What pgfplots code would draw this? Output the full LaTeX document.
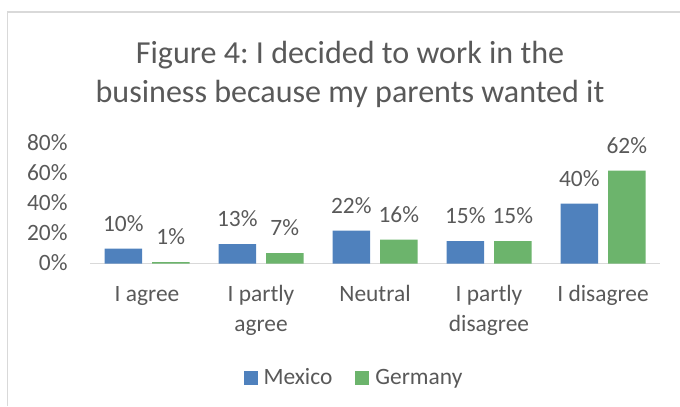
\documentclass[border=0pt]{standalone}
\usepackage{pgfplots}
\pgfplotsset{compat=1.18}
\usepackage{fontspec}
\setmainfont{Carlito}
\frenchspacing
\definecolor{mex}{HTML}{4F81BD}
\definecolor{ger}{HTML}{6CB46C}
\definecolor{txt}{HTML}{595959}
\definecolor{brd}{HTML}{D9D9D9}
\begin{document}
\begin{tikzpicture}[x=1bp,y=1bp]
\useasboundingbox (0,0) rectangle (680,406);
\draw[brd, line width=1.5bp] (7.5,0) -- (7.5,394) -- (680,394);
\node[text=txt, font=\fontsize{32.2}{39}\selectfont, anchor=base, inner sep=0pt] at (350,343) {Figure 4: I decided to work in the};
\node[text=txt, font=\fontsize{32.2}{39}\selectfont, anchor=base, inner sep=0pt] at (350,304) {business because my parents wanted it};
\begin{axis}[
  at={(90bp,142.5bp)}, anchor=south west, scale only axis,
  width=570bp, height=120bp,
  xmin=-0.5, xmax=4.5, ymin=0, ymax=80,
  ybar=10bp, bar width=37.5bp,
  separate axis lines,
  axis x line*=bottom, axis y line*=left,
  x axis line style={brd, line width=1.5bp},
  y axis line style={draw=none},
  major tick length=0pt,
  ytick={0,20,40,60,80},
  yticklabels={0\%,20\%,40\%,60\%,80\%},
  yticklabel style={font=\fontsize{23.5}{28}\selectfont, text=txt, inner sep=0pt, anchor=base east, xshift=-22.3bp, yshift=-7.3bp},
  xtick={0,1,2,3,4},
  xticklabels={\strut I agree, {\strut I partly\\agree}, \strut Neutral, {\strut I partly\\disagree}, \strut I disagree},
  xticklabel style={font=\fontsize{23.5}{30}\selectfont, text=txt, align=center, inner sep=0pt, anchor=north, yshift=-17.2bp},
  nodes near coords,
  point meta=explicit symbolic,
  every node near coord/.append style={font=\fontsize{23.5}{28}\selectfont, text=txt, inner sep=0pt, anchor=base, yshift=17.5bp},
  clip=false,
  legend columns=-1,
  legend style={at={(0.463,-0.95)}, anchor=center, draw=none, font=\fontsize{23.5}{28}\selectfont, text=txt,
    /tikz/every odd column/.append style={column sep=4bp},
    /tikz/every even column/.append style={column sep=21bp}},
  legend image code/.code={\fill[#1,draw=none] (0bp,-7bp) rectangle (14bp,7bp);},
]
\addplot[fill=mex, draw=none] coordinates {(0,10) [10\%] (1,13) [13\%] (2,22) [22\%] (3,15) [15\%] (4,40) [40\%]};
\addplot[fill=ger, draw=none] coordinates {(0,1) [1\%] (1,7) [7\%] (2,16) [16\%] (3,15) [15\%] (4,62) [62\%]};
\legend{Mexico, Germany}
\end{axis}
\end{tikzpicture}
\end{document}
